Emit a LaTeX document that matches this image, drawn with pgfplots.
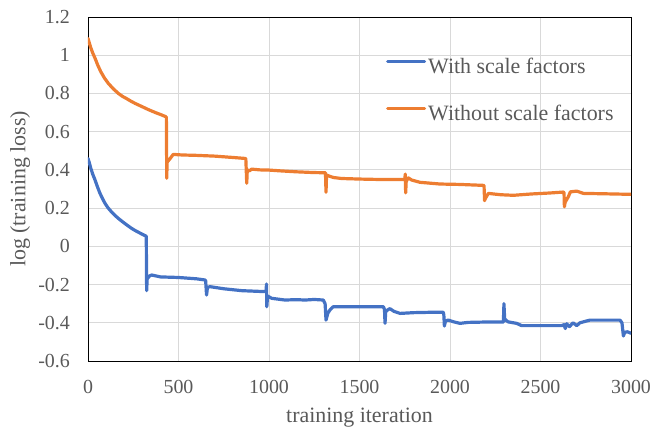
\documentclass[border=0pt]{standalone}
\usepackage{fontspec}
\setmainfont{Liberation Serif}
\usepackage{pgfplots}
\pgfplotsset{compat=1.18}
\definecolor{sblue}{HTML}{4472C4}
\definecolor{sorange}{HTML}{ED7D31}
\definecolor{txtgray}{HTML}{595959}
\definecolor{gridgray}{HTML}{D9D9D9}
\begin{document}
\begin{tikzpicture}
\useasboundingbox (-88bp,-70bp) rectangle (566bp,361bp);
\begin{axis}[
  scale only axis,
  width=543bp, height=344bp,
  xmin=0, xmax=3000, ymin=-0.6, ymax=1.2,
  xtick={0,500,1000,1500,2000,2500,3000},
  xticklabels={0,500,1000,1500,2000,2500,3000},
  ytick={-0.6,-0.4,-0.2,0,0.2,0.4,0.6,0.8,1,1.2},
  yticklabels={-0.6,-0.4,-0.2,0,0.2,0.4,0.6,0.8,1,1.2},
  major tick length=0pt,
  tick style={draw=none},
  grid=major,
  major grid style={gridgray, line width=0.9bp},
  axis line style={black, line width=0.9bp},
  tick label style={font=\fontsize{20}{24}\selectfont, text=txtgray, inner sep=0pt},
  xticklabel style={anchor=north, yshift=-19bp},
  yticklabel style={anchor=east, xshift=-18bp},
  xlabel={training iteration},
  ylabel={log (training loss)},
  label style={font=\fontsize{22}{26}\selectfont, text=txtgray, inner sep=0pt},
  xlabel style={at={(axis description cs:0.5,-0.1366)}, anchor=north},
  ylabel style={at={(axis description cs:-0.1252,0.5)}, anchor=center, rotate=0},
  legend cell align=left,
  legend style={draw=none, fill=none, inner sep=0pt, outer sep=0pt,
    at={(axis description cs:0.5488,0.881)}, anchor=north west,
    font=\fontsize{22}{26}\selectfont, text=txtgray, row sep=30bp,
    nodes={inner ysep=0pt, inner xsep=2bp}},
  legend image code/.code={\draw[#1, line width=3.2bp] (0bp,5bp) -- (37bp,5bp);},
  every axis plot/.append style={line width=3.2bp, line join=round, line cap=round},
]
\addplot[sblue] coordinates {
(0,0.46) (8,0.435) (15,0.41) (26,0.378) (39,0.347) (52,0.312) (65,0.28) (80,0.25) (94,0.225) (110,0.202) (130,0.18) (150,0.161) (168,0.146) (185,0.133) (200,0.122) (220,0.108) (241,0.094) (260,0.083) (280,0.073) (300,0.063) (320,0.054) (322,0.05) (324,-0.232) (327,-0.17) (340,-0.155) (352,-0.150) (400,-0.160) (500,-0.163) (600,-0.170) (646,-0.176) (650,-0.18) (655,-0.255) (660,-0.215) (674,-0.211) (750,-0.222) (850,-0.232) (978,-0.237) (984,-0.237) (986,-0.197) (988,-0.316) (992,-0.26) (1015,-0.272) (1088,-0.281) (1150,-0.279) (1200,-0.281) (1250,-0.278) (1300,-0.281) (1310,-0.30) (1315,-0.386) (1325,-0.35) (1337,-0.333) (1355,-0.316) (1450,-0.316) (1550,-0.316) (1632,-0.316) (1638,-0.33) (1641,-0.403) (1645,-0.34) (1660,-0.33) (1668,-0.326) (1690,-0.34) (1724,-0.351) (1800,-0.347) (1900,-0.345) (1963,-0.345) (1966,-0.36) (1969,-0.417) (1975,-0.39) (1991,-0.386) (2020,-0.395) (2055,-0.403) (2101,-0.398) (2200,-0.396) (2295,-0.396) (2298,-0.30) (2302,-0.38) (2320,-0.395) (2368,-0.403) (2396,-0.415) (2500,-0.415) (2617,-0.415) (2630,-0.41) (2637,-0.43) (2645,-0.405) (2660,-0.42) (2680,-0.40) (2700,-0.415) (2718,-0.40) (2773,-0.386) (2850,-0.386) (2939,-0.386) (2950,-0.40) (2958,-0.469) (2965,-0.45) (2980,-0.447) (3000,-0.455)
};
\addlegendentry{With scale factors}
\addplot[sorange] coordinates {
(0,1.088) (8,1.062) (15,1.04) (26,1.012) (39,0.984) (54,0.948) (70,0.915) (90,0.882) (112,0.853) (140,0.824) (168,0.80) (190,0.785) (215,0.772) (238,0.759) (260,0.748) (285,0.737) (310,0.726) (330,0.717) (352,0.708) (375,0.699) (400,0.690) (431,0.678) (433,0.678) (435,0.356) (437,0.44) (450,0.455) (471,0.481) (520,0.478) (600,0.476) (700,0.472) (800,0.465) (867,0.460) (872,0.458) (877,0.33) (880,0.40) (892,0.395) (904,0.404) (950,0.400) (1000,0.399) (1061,0.395) (1150,0.39) (1250,0.386) (1309,0.385) (1312,0.385) (1315,0.283) (1318,0.373) (1340,0.365) (1357,0.36) (1400,0.355) (1500,0.352) (1600,0.350) (1700,0.350) (1750,0.350) (1753,0.378) (1755,0.28) (1758,0.34) (1770,0.358) (1788,0.347) (1834,0.335) (1945,0.326) (2050,0.324) (2184,0.319) (2188,0.318) (2191,0.239) (2195,0.25) (2212,0.277) (2280,0.27) (2350,0.267) (2450,0.274) (2550,0.279) (2626,0.284) (2630,0.28) (2632,0.207) (2636,0.23) (2654,0.26) (2665,0.285) (2700,0.289) (2737,0.277) (2850,0.275) (3000,0.272)
};
\addlegendentry{Without scale factors}
\end{axis}
\end{tikzpicture}
\end{document}
